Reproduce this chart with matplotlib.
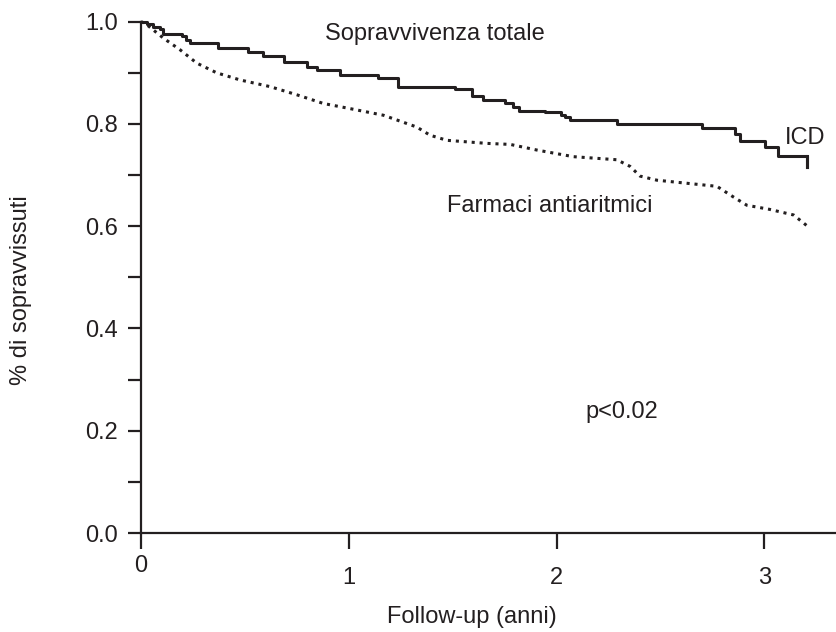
import matplotlib.pyplot as plt
from matplotlib.ticker import MultipleLocator, FormatStrFormatter
from matplotlib.transforms import ScaledTranslation

plt.rcParams['font.family'] = ['Liberation Sans', 'DejaVu Sans']

# curva ICD (a gradini)
icd_t = [0, 0.03, 0.06, 0.09, 0.107, 0.196, 0.215, 0.236, 0.372, 0.517, 0.589,
         0.689, 0.80, 0.846, 0.958, 1.143, 1.239, 1.512, 1.592, 1.648, 1.75,
         1.79, 1.817, 1.945, 2.02, 2.04, 2.065, 2.29, 2.70, 2.86, 2.885,
         3.004, 3.067, 3.205]
icd_s = [1.0, 0.995, 0.99, 0.985, 0.976, 0.972, 0.965, 0.958, 0.948, 0.94, 0.933,
         0.922, 0.912, 0.905, 0.896, 0.89, 0.873, 0.869, 0.855, 0.847, 0.840,
         0.833, 0.826, 0.823, 0.818, 0.813, 0.808, 0.800, 0.792, 0.780, 0.767,
         0.754, 0.737, 0.716]

# curva farmaci antiaritmici (tratteggiata)
aad_t = [0, 0.019, 0.107, 0.188, 0.268, 0.364, 0.477, 0.621, 0.750, 0.878,
         1.006, 1.167, 1.327, 1.391, 1.472, 1.664, 1.777, 1.905, 2.081, 2.290,
         2.354, 2.402, 2.483, 2.772, 2.852, 2.916, 3.025, 3.141, 3.205]
aad_s = [1.0, 0.997, 0.968, 0.945, 0.919, 0.900, 0.886, 0.873, 0.857, 0.840,
         0.830, 0.817, 0.794, 0.778, 0.768, 0.762, 0.760, 0.749, 0.736, 0.730,
         0.717, 0.698, 0.690, 0.678, 0.657, 0.641, 0.633, 0.622, 0.601]

col = '#231f20'
fs = 17

fig = plt.figure(figsize=(8.37, 6.32), dpi=100)
ax = fig.add_axes([0.1685, 0.1566, 0.8315, 0.8091])

ax.step(icd_t, icd_s, where='post', color=col, lw=2.2, clip_on=False)
ax.plot(icd_t[-1:] * 2, [icd_s[-2], icd_s[-1]], color=col, lw=2.2)
ax.plot(aad_t, aad_s, color=col, lw=2.2, linestyle=(0, (1, 1.6)), clip_on=False)

ax.set_xlim(0, 3.35)
ax.set_ylim(0, 1.0)
ax.set_xticks([0, 1, 2, 3])
ax.yaxis.set_major_locator(MultipleLocator(0.2))
ax.yaxis.set_minor_locator(MultipleLocator(0.1))
ax.yaxis.set_major_formatter(FormatStrFormatter('%.1f'))

for s in ['top', 'right']:
    ax.spines[s].set_visible(False)
for s in ['left', 'bottom']:
    ax.spines[s].set_linewidth(1.6)
    ax.spines[s].set_color(col)

ax.tick_params(axis='y', which='both', length=9.5, width=1.6, color=col,
               labelsize=fs, labelcolor=col, pad=7)
ax.tick_params(axis='x', length=11.5, width=1.6, color=col,
               labelsize=fs, labelcolor=col, pad=13)

# lo "0" sull'asse x sta piu' in alto degli altri
lab0 = ax.get_xticklabels()[0]
lab0.set_transform(lab0.get_transform() + ScaledTranslation(0, 12 / 100, fig.dpi_scale_trans))

ax.set_xlabel('Follow-up (anni)', fontsize=fs, color=col)
ax.set_ylabel('% di sopravvissuti', fontsize=fs, color=col, ha='center', va='center')
ax.xaxis.set_label_coords(0.476, -0.142)
ax.yaxis.set_label_coords(-0.173, 0.475)

ax.text(0.886, 0.964, 'Sopravvivenza totale', fontsize=fs, color=col,
        ha='left', va='baseline')
ax.text(3.10, 0.760, 'ICD', fontsize=fs, color=col, ha='left', va='baseline')
ax.text(1.472, 0.628, 'Farmaci antiaritmici', fontsize=fs, color=col,
        ha='left', va='baseline')
ax.text(2.138, 0.225, 'p<0.02', fontsize=fs, color=col, ha='left', va='baseline')

plt.savefig('out.png', dpi=100)
